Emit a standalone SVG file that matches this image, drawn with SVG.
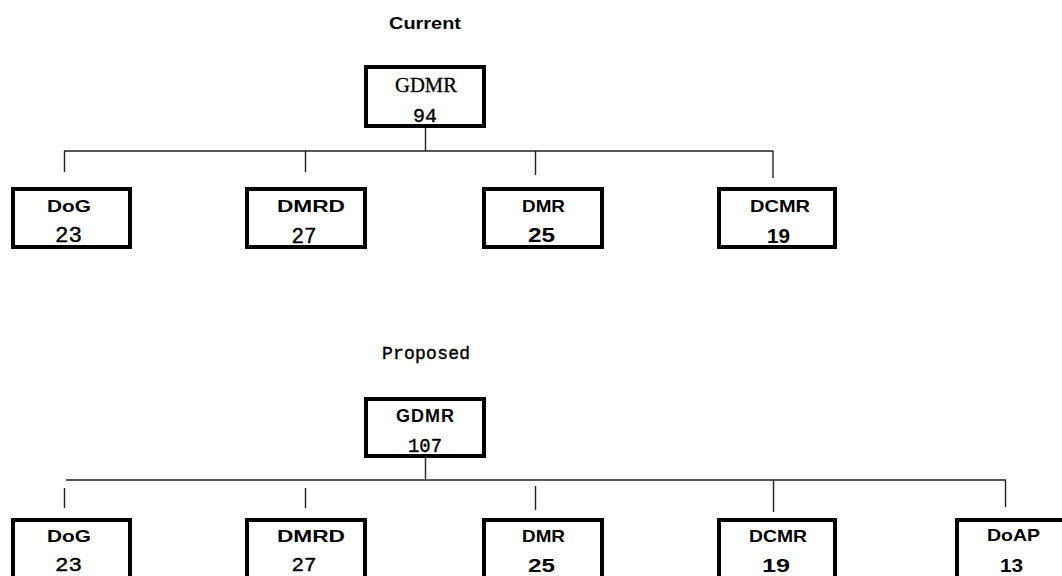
<svg xmlns="http://www.w3.org/2000/svg" width="1062" height="576" viewBox="0 0 1062 576">
<style>
.box{fill:#fff;stroke:#000;stroke-width:4}
.ln{stroke:#222;stroke-width:1.4;fill:none}
.sb{font-family:"Liberation Sans",Arial,sans-serif;font-weight:bold;fill:#000;text-anchor:middle}
.sr{font-family:"Liberation Serif","Times New Roman",serif;fill:#000;stroke:#000;stroke-width:0.3;text-anchor:middle}
.mo{font-family:"Liberation Mono","Courier New",monospace;fill:#000;stroke:#000;stroke-width:0.4;text-anchor:middle}
</style>
<rect width="1062" height="576" fill="#fff"/>
<text class="sb" x="425" y="29" font-size="16.5" textLength="72" lengthAdjust="spacingAndGlyphs">Current</text>
<text class="mo" x="426" y="359" font-size="18" textLength="88" lengthAdjust="spacing" stroke-width="0.2">Proposed</text>
<g id="connectors">
<path class="ln" d="M425.5 118V151M64 151H773M64.5 151V172M305.5 151V172M535.5 151V175M773 151V178"/>
<path class="ln" d="M425.5 450V480M66 480H1006M64.5 488V508M305.5 488V508M535.5 486V510M773.5 480V512M1005.5 480V507"/>
</g>
<g id="top-gdmr"><rect class="box" x="366" y="67" width="118" height="59"/>
<text class="sr" x="426" y="92" font-size="20" textLength="62" lengthAdjust="spacingAndGlyphs">GDMR</text>
<text class="mo" x="425" y="122" font-size="21" textLength="24" lengthAdjust="spacingAndGlyphs">94</text></g>
<g id="top-dog"><rect class="box" x="13" y="189" width="117" height="58"/>
<text class="sb" x="69" y="212" font-size="16.5" textLength="44" lengthAdjust="spacingAndGlyphs">DoG</text>
<text class="mo" x="68.5" y="242" font-size="22" textLength="27" lengthAdjust="spacingAndGlyphs">23</text></g>
<g id="top-dmrd"><rect class="box" x="247" y="189" width="118" height="58"/>
<text class="sb" x="311" y="212" font-size="16.5" textLength="68" lengthAdjust="spacingAndGlyphs">DMRD</text>
<text class="mo" x="304" y="243" font-size="22" textLength="25" lengthAdjust="spacingAndGlyphs">27</text></g>
<g id="top-dmr"><rect class="box" x="484" y="189" width="118" height="58"/>
<text class="sb" x="543.5" y="212" font-size="16.5" textLength="43" lengthAdjust="spacingAndGlyphs">DMR</text>
<text class="sb" x="541.5" y="242" font-size="20" textLength="27" lengthAdjust="spacingAndGlyphs">25</text></g>
<g id="top-dcmr"><rect class="box" x="719" y="189" width="116" height="58"/>
<text class="sb" x="780" y="212" font-size="16.5" textLength="60" lengthAdjust="spacingAndGlyphs">DCMR</text>
<text class="sb" x="778.5" y="243" font-size="20" textLength="23" lengthAdjust="spacingAndGlyphs">19</text></g>
<g id="bot-gdmr"><rect class="box" x="366" y="399" width="118" height="57"/>
<text class="sb" x="425" y="422" font-size="18" textLength="58" lengthAdjust="spacing">GDMR</text>
<text class="mo" x="425" y="452" font-size="21" textLength="34" lengthAdjust="spacingAndGlyphs">107</text></g>
<g id="bot-dog"><rect class="box" x="13" y="520" width="117" height="62"/>
<text class="sb" x="69" y="542" font-size="16.5" textLength="44" lengthAdjust="spacingAndGlyphs">DoG</text>
<text class="mo" x="68.5" y="571" font-size="21" textLength="27" lengthAdjust="spacingAndGlyphs">23</text></g>
<g id="bot-dmrd"><rect class="box" x="247" y="520" width="118" height="62"/>
<text class="sb" x="311" y="542" font-size="16.5" textLength="68" lengthAdjust="spacingAndGlyphs">DMRD</text>
<text class="mo" x="304" y="571" font-size="21" textLength="25" lengthAdjust="spacingAndGlyphs">27</text></g>
<g id="bot-dmr"><rect class="box" x="484" y="520" width="118" height="62"/>
<text class="sb" x="543.5" y="542" font-size="16.5" textLength="43" lengthAdjust="spacingAndGlyphs">DMR</text>
<text class="sb" x="541.5" y="572" font-size="19" textLength="27" lengthAdjust="spacingAndGlyphs">25</text></g>
<g id="bot-dcmr"><rect class="box" x="719" y="520" width="116" height="62"/>
<text class="sb" x="778" y="542" font-size="16.5" textLength="58" lengthAdjust="spacingAndGlyphs">DCMR</text>
<text class="sb" x="776" y="572" font-size="19" textLength="28" lengthAdjust="spacingAndGlyphs">19</text></g>
<g id="bot-doap"><rect class="box" x="957" y="520" width="118" height="62"/>
<text class="sb" x="1013.5" y="541" font-size="16.5" textLength="53" lengthAdjust="spacingAndGlyphs">DoAP</text>
<text class="sb" x="1011.5" y="572" font-size="19" textLength="23" lengthAdjust="spacingAndGlyphs">13</text></g>
</svg>
